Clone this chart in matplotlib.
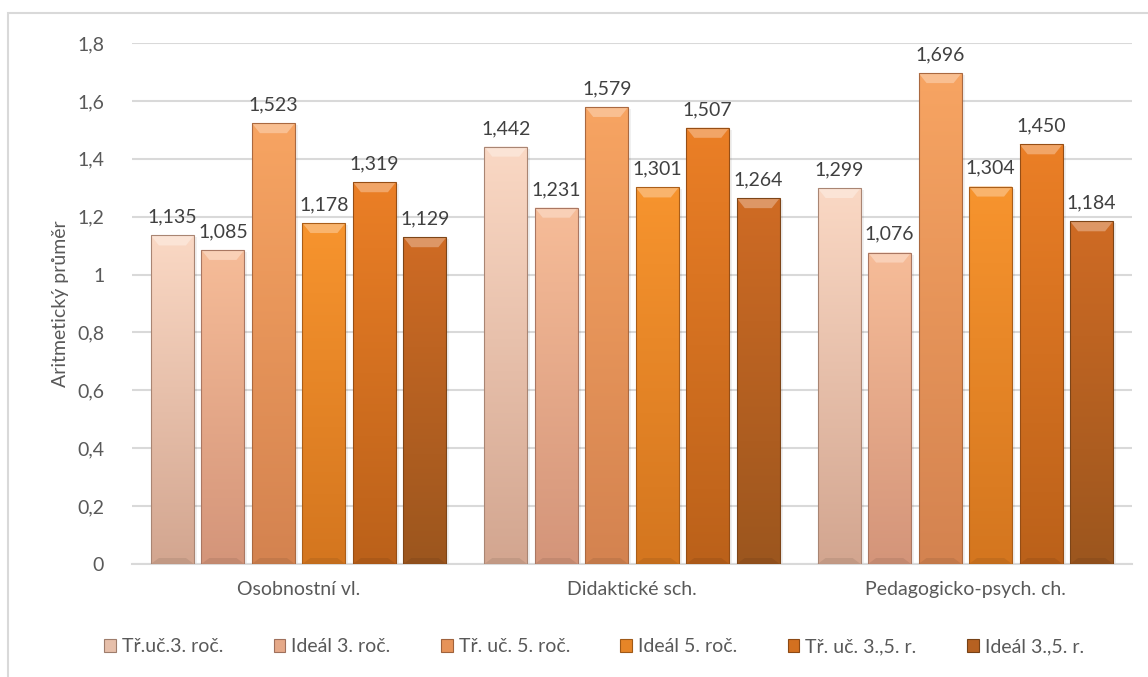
import numpy as np
import matplotlib
matplotlib.use("Agg")
import matplotlib.pyplot as plt
from matplotlib.patches import Rectangle, Polygon
from matplotlib.colors import to_rgb

plt.rcParams['font.family'] = ['Lato', 'DejaVu Sans']

# data
categories = ['Osobnostní vl.', 'Didaktické sch.', 'Pedagogicko-psych. ch.']
series_names = ['Tř.uč.3. roč.', 'Ideál 3. roč.', 'Tř. uč. 5. roč.',
                'Ideál 5. roč.', 'Tř. uč. 3.,5. r.', 'Ideál 3.,5. r.']
values = [
    [1.135, 1.442, 1.299],
    [1.085, 1.231, 1.076],
    [1.523, 1.579, 1.696],
    [1.178, 1.301, 1.304],
    [1.319, 1.507, 1.450],
    [1.129, 1.264, 1.184],
]
yticks = [0, 0.2, 0.4, 0.6, 0.8, 1, 1.2, 1.4, 1.6, 1.8]

# top / bottom colours of each series gradient
top_colors = ['#FAD8C4', '#F6BC98', '#F7A462', '#F7942E', '#EB7F26', '#CF6B24']
bottom_colors = ['#D3A690', '#D4957A', '#D48350', '#D4761F', '#BB611A', '#9C561E']


def mix(c, other, t):
    a = np.array(to_rgb(c))
    b = np.array(to_rgb(other))
    return tuple(a * (1 - t) + b * t)


fig = plt.figure(figsize=(11.48, 6.77), dpi=100)
ax = fig.add_axes([132 / 1148, 1 - 564 / 677, 1000 / 1148, 521 / 677])

n = len(series_names)
pitch = 0.1515
width = 0.129
x = np.arange(len(categories))
ax.set_xlim(-0.5, len(categories) - 0.5)
ax.set_ylim(0, 1.8)

# data units per pixel for bevel sizes
px_x = 1.0 / 333.3
px_y = 1.8 / 521

for i in range(n):
    grad = np.linspace(0, 1, 64)[:, None]
    top = np.array(to_rgb(top_colors[i]))
    bot = np.array(to_rgb(bottom_colors[i]))
    img = (top[None, None, :] * (1 - grad[..., None]) + bot[None, None, :] * grad[..., None])
    for j, v in enumerate(values[i]):
        x0 = x[j] + (i - (n - 1) / 2) * pitch - width / 2
        # soft shadow on the right
        shadow = Rectangle((x0 + 3 * px_x, 0), width, v - 2 * px_y,
                           facecolor='#000000', alpha=0.06, edgecolor='none', zorder=2)
        ax.add_patch(shadow)
        rect = Rectangle((x0, 0), width, v, facecolor='none',
                         edgecolor=mix(bottom_colors[i], '#000000', 0.2), lw=0.8, zorder=4)
        ax.add_patch(rect)
        # row 0 of the image sits at the top of the bar
        im = ax.imshow(img, extent=[x0, x0 + width, 0, v], aspect='auto',
                       origin='upper', zorder=3, interpolation='bilinear')
        im.set_clip_path(rect)
        # bevel at the top of the bar
        bx = 8 * px_x
        by = 10 * px_y
        bevel = Polygon([(x0, v), (x0 + width, v), (x0 + width - bx, v - by), (x0 + bx, v - by)],
                        closed=True, facecolor=mix(top_colors[i], '#FFFFFF', 0.3),
                        edgecolor='none', zorder=3.5)
        ax.add_patch(bevel)
        # darker bevel at the bottom
        bevel_b = Polygon([(x0, 0), (x0 + width, 0), (x0 + width - bx, by * 0.6), (x0 + bx, by * 0.6)],
                          closed=True, facecolor=mix(bottom_colors[i], '#000000', 0.08),
                          edgecolor='none', zorder=3.5)
        ax.add_patch(bevel_b)
        ax.annotate(f'{v:.3f}'.replace('.', ','), (x0 + width / 2, v),
                    xytext=(0, 7), textcoords='offset points', ha='center', va='bottom',
                    fontsize=14, color='#404040', zorder=5)

# grid and axes
ax.set_yticks(yticks)
ax.set_yticklabels([f'{t:g}'.replace('.', ',') for t in yticks])
ax.yaxis.grid(True, color='#D9D9D9', lw=1.5, zorder=0)
ax.set_axisbelow(True)
ax.set_xticks(x)
ax.set_xticklabels(categories)
ax.tick_params(axis='both', length=0, labelsize=14, labelcolor='#595959')
ax.tick_params(axis='y', pad=20)
ax.tick_params(axis='x', pad=12)
for s in ['top', 'right', 'left']:
    ax.spines[s].set_visible(False)
ax.spines['bottom'].set_color('#D9D9D9')
ax.spines['bottom'].set_linewidth(1.5)
ax.set_ylabel('Aritmetický průměr', fontsize=14, color='#595959', labelpad=6)

# legend
handles = [Rectangle((0, 0), 1, 1, facecolor=mix(top_colors[i], bottom_colors[i], 0.5),
                     edgecolor=mix(bottom_colors[i], '#000000', 0.25), lw=0.8)
           for i in range(n)]
fig.legend(handles, series_names, loc='center', bbox_to_anchor=(594 / 1148, 1 - 647 / 677),
           ncol=n, frameon=False, fontsize=14, labelcolor='#595959',
           handlelength=0.6, handleheight=0.6, handletextpad=0.3, columnspacing=2.6)

# chart border
fig.add_artist(Rectangle((8 / 1148, -0.05), 1.1, 1 - 13 / 677 + 0.05, transform=fig.transFigure,
                         facecolor='none', edgecolor='#D9D9D9', lw=1.5))

fig.savefig('out.png', dpi=100)
